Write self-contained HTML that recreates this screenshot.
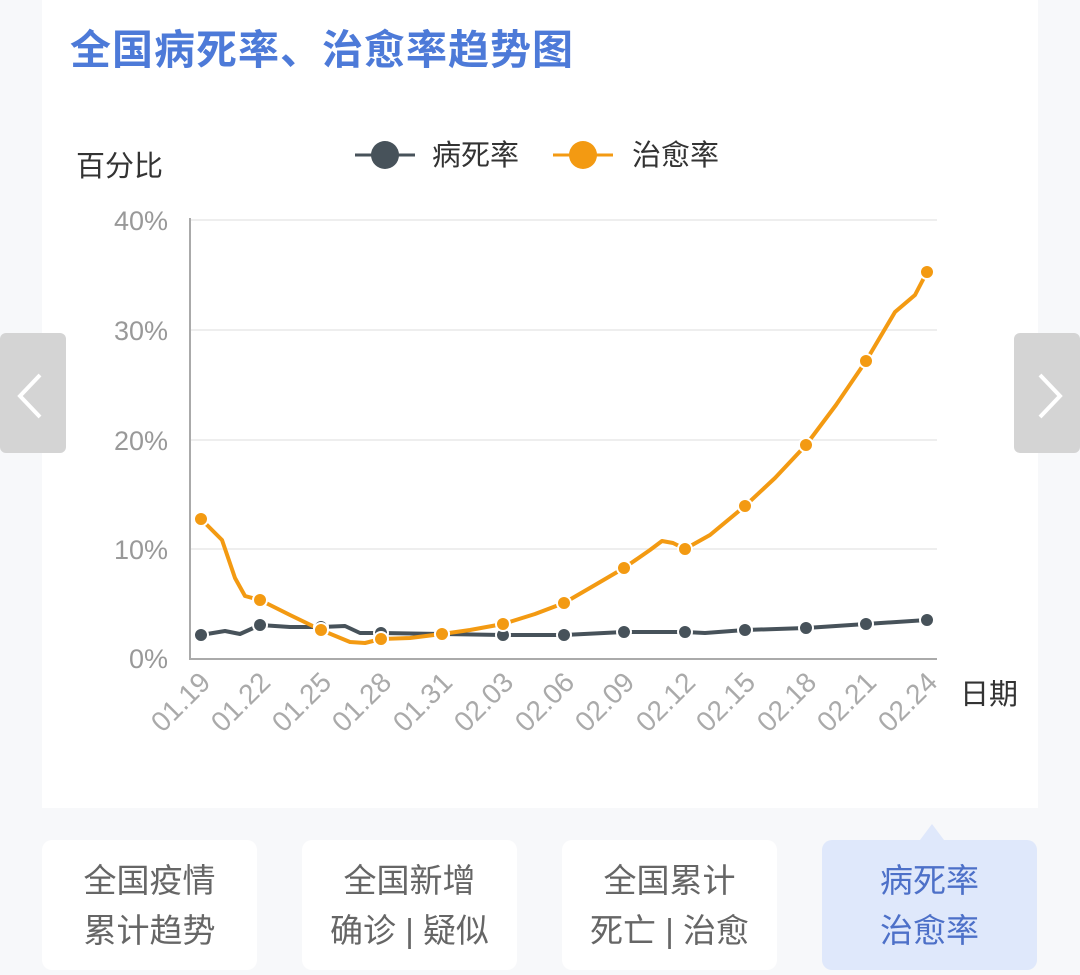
<!DOCTYPE html>
<html><head><meta charset="utf-8"><style>
body{margin:0;width:1080px;height:975px;background:#f7f8fa;position:relative;overflow:hidden;font-family:"Liberation Sans","Noto Sans CJK SC",sans-serif}
.card{position:absolute;left:42px;top:0;width:996px;height:808px;background:#fff}
.title{position:absolute;left:70px;top:16px;font-size:41px;font-weight:bold;color:#4d7ad8;letter-spacing:1px}
.btn{position:absolute;top:840px;width:215px;height:130px;background:#fff;border-radius:10px;color:#666;font-size:33px;line-height:50px;text-align:center;padding-top:16px;box-sizing:border-box}
.btn.act{background:#dfe8fb;color:#4d70c8}
.arrow{position:absolute;top:333px;width:66px;height:120px;background:#d4d4d4;border-radius:6px}
</style></head><body>
<div class="card"></div>
<div class="title">全国病死率、治愈率趋势图</div>
<svg style="position:absolute;left:0;top:0" width="1080" height="975">
<g font-family="Liberation Sans, Noto Sans CJK SC, sans-serif">
<text x="76" y="176" font-size="29" fill="#333">百分比</text>
<line x1="355" y1="155" x2="415" y2="155" stroke="#47525a" stroke-width="3"/><circle cx="385" cy="155" r="14" fill="#47525a"/>
<text x="432" y="165" font-size="29" fill="#333">病死率</text>
<line x1="553" y1="155" x2="613" y2="155" stroke="#f39a12" stroke-width="3"/><circle cx="583" cy="155" r="14" fill="#f39a12"/>
<text x="632" y="165" font-size="29" fill="#333">治愈率</text>
<g stroke="#eee" stroke-width="2"><line x1="190" y1="220" x2="937" y2="220"/><line x1="190" y1="330" x2="937" y2="330"/><line x1="190" y1="440" x2="937" y2="440"/><line x1="190" y1="549" x2="937" y2="549"/></g>
<line x1="190" y1="218" x2="190" y2="660" stroke="#aaa" stroke-width="2"/>
<line x1="190" y1="659" x2="937" y2="659" stroke="#aaa" stroke-width="2"/>
<g font-size="27" fill="#999" text-anchor="end"><text x="168" y="230">40%</text><text x="168" y="340">30%</text><text x="168" y="450">20%</text><text x="168" y="559">10%</text><text x="168" y="668">0%</text></g>
<g font-size="28" fill="#aaa" text-anchor="end">
<text transform="translate(212,684) rotate(-45)">01.19</text>
<text transform="translate(272,684) rotate(-45)">01.22</text>
<text transform="translate(333,684) rotate(-45)">01.25</text>
<text transform="translate(393,684) rotate(-45)">01.28</text>
<text transform="translate(454,684) rotate(-45)">01.31</text>
<text transform="translate(515,684) rotate(-45)">02.03</text>
<text transform="translate(576,684) rotate(-45)">02.06</text>
<text transform="translate(636,684) rotate(-45)">02.09</text>
<text transform="translate(697,684) rotate(-45)">02.12</text>
<text transform="translate(757,684) rotate(-45)">02.15</text>
<text transform="translate(818,684) rotate(-45)">02.18</text>
<text transform="translate(878,684) rotate(-45)">02.21</text>
<text transform="translate(939,684) rotate(-45)">02.24</text>
</g>
<text x="960" y="704" font-size="29" fill="#333">日期</text>
<polyline fill="none" stroke="#47525a" stroke-width="4" stroke-linejoin="round" points="201,635 225,631 240,634 260,625 290,627 321,627 345,626 360,633 381,633 442,634 503,635 564,635 624,632 685,632 705,633 745,630 806,628 866,624 927,620"/>
<polyline fill="none" stroke="#f39a12" stroke-width="4" stroke-linejoin="round" points="201,519 222,540 235,578 245,596 260,600 290,615 321,630 350,642 365,643 381,639 410,638 442,634 470,630 503,624 535,614 564,603 595,585 624,568 650,550 662,541 673,543 685,549 710,535 745,506 775,478 806,445 836,405 866,361 895,312 915,295 927,272"/>
<g fill="#47525a" stroke="#fff" stroke-width="2">
<circle cx="201" cy="635" r="7"/><circle cx="260" cy="625" r="7"/><circle cx="321" cy="627" r="7"/><circle cx="381" cy="633" r="7"/><circle cx="442" cy="634" r="7"/><circle cx="503" cy="635" r="7"/><circle cx="564" cy="635" r="7"/><circle cx="624" cy="632" r="7"/><circle cx="685" cy="632" r="7"/><circle cx="745" cy="630" r="7"/><circle cx="806" cy="628" r="7"/><circle cx="866" cy="624" r="7"/><circle cx="927" cy="620" r="7"/></g>
<g fill="#f39a12" stroke="#fff" stroke-width="2">
<circle cx="201" cy="519" r="7"/><circle cx="260" cy="600" r="7"/><circle cx="321" cy="630" r="7"/><circle cx="381" cy="639" r="7"/><circle cx="442" cy="634" r="7"/><circle cx="503" cy="624" r="7"/><circle cx="564" cy="603" r="7"/><circle cx="624" cy="568" r="7"/><circle cx="685" cy="549" r="7"/><circle cx="745" cy="506" r="7"/><circle cx="806" cy="445" r="7"/><circle cx="866" cy="361" r="7"/><circle cx="927" cy="272" r="7"/></g>
</g>
<polygon points="920,840 932,824 944,840" fill="#dfe8fb"/>
</svg>
<div class="arrow" style="left:0"><svg width="66" height="120"><polyline points="40,42 20,63 40,84" fill="none" stroke="#fff" stroke-width="4"/></svg></div>
<div class="arrow" style="left:1014px"><svg width="66" height="120"><polyline points="26,42 46,63 26,84" fill="none" stroke="#fff" stroke-width="4"/></svg></div>
<div class="btn" style="left:42px">全国疫情<br>累计趋势</div>
<div class="btn" style="left:302px">全国新增<br>确诊 | 疑似</div>
<div class="btn" style="left:562px">全国累计<br>死亡 | 治愈</div>
<div class="btn act" style="left:822px">病死率<br>治愈率</div>
</body></html>
